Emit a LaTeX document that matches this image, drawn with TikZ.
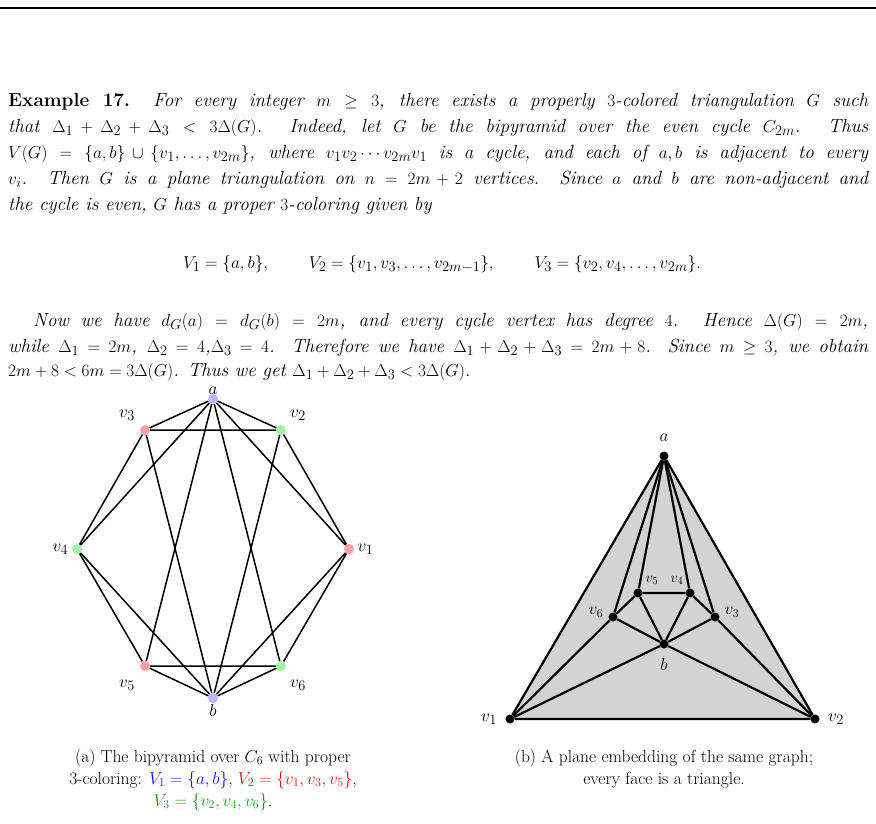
\documentclass[tikz,border=0pt]{standalone}
\usepackage{amsmath,amssymb}
\usetikzlibrary{positioning}
\definecolor{cb}{RGB}{185,185,255}
\definecolor{cr}{RGB}{255,160,160}
\definecolor{cg}{RGB}{160,250,160}
\definecolor{fillg}{RGB}{211,211,211}
\definecolor{capblue}{RGB}{20,20,230}
\definecolor{capred}{RGB}{210,20,20}
\definecolor{capgreen}{RGB}{20,150,20}
\tikzset{
 cv/.style={circle,inner sep=0pt,minimum size=10pt},
 bv/.style={circle,fill=black,inner sep=0pt,minimum size=9pt},
 ed/.style={line width=1.5pt},
 ed2/.style={line width=2.2pt},
 lbl/.style={font=\fontsize{19}{22}\selectfont},
 txt/.style={anchor=base west,inner sep=0pt,font=\fontsize{19}{26}\selectfont},
}
\newcommand{\jl}[1]{\hbox to 860pt{#1}}
\begin{document}
\begin{tikzpicture}[x=1pt,y=-1pt]
\useasboundingbox (0,0) rectangle (876,823);
\draw[line width=2pt] (0,8) -- (876,8);
\node[txt] (l1) at (8,106) {\jl{\textbf{Example 17.} \itshape For every integer $m\ge 3$, there exists a properly $3$-colored triangulation $G$ such}};
\node[txt] (l2) at (8,132) {\jl{\itshape that $\Delta_1+\Delta_2+\Delta_3<3\Delta(G)$. Indeed, let $G$ be the bipyramid over the even cycle $C_{2m}$. Thus}};
\node[txt] (l3) at (8,158) {\jl{\itshape $V(G)=\{a,b\}\cup\{v_1,\dots,v_{2m}\}$, where $v_1v_2\cdots v_{2m}v_1$ is a cycle, and each of $a,b$ is adjacent to every}};
\node[txt] (l4) at (8,184) {\jl{\itshape $v_i$. Then $G$ is a plane triangulation on $n=2m+2$ vertices. Since $a$ and $b$ are non-adjacent and}};
\node[txt] (l5) at (8,210) {\itshape the cycle is even, $G$ has a proper $3$-coloring given by};
\node[anchor=base,inner sep=0pt,font=\fontsize{19}{26}\selectfont] (d) at (442,268) {$V_1=\{a,b\},\qquad V_2=\{v_1,v_3,\dots,v_{2m-1}\},\qquad V_3=\{v_2,v_4,\dots,v_{2m}\}.$};
\node[txt] (l6) at (8,326) {\jl{\hspace{25pt}\itshape Now we have $d_G(a)=d_G(b)=2m$, and every cycle vertex has degree $4$. Hence $\Delta(G)=2m$,}};
\node[txt] (l7) at (8,352) {\jl{\itshape while $\Delta_1=2m$, $\Delta_2=4$,$\Delta_3=4$. Therefore we have $\Delta_1+\Delta_2+\Delta_3=2m+8$. Since $m\ge3$, we obtain}};
\node[txt] (l8) at (8,376) {\itshape $2m+8<6m=3\Delta(G)$. Thus we get $\Delta_1+\Delta_2+\Delta_3<3\Delta(G)$.};
% left graph
\node[cv,fill=cb] (a) at (213,399) {};
\node[cv,fill=cg] (v2) at (281,430) {};
\node[cv,fill=cr] (v1) at (349,549) {};
\node[cv,fill=cg] (v6) at (281,666) {};
\node[cv,fill=cb] (b) at (213,698) {};
\node[cv,fill=cr] (v5) at (145,666) {};
\node[cv,fill=cg] (v4) at (77,549) {};
\node[cv,fill=cr] (v3) at (145,430) {};
\foreach \v in {v1,v2,v3,v4,v5,v6}{\draw[ed] (a) -- (\v); \draw[ed] (b) -- (\v);}
\draw[ed] (v1)--(v2)--(v3)--(v4)--(v5)--(v6)--(v1);
\node[lbl,above=-2pt of a,inner sep=1pt] (la) {$a$};
\node[lbl,below=0pt of b,inner sep=1pt] (lb) {$b$};
\node[lbl,right=0pt of v1] (l_v1) {$v_1$};
\node[lbl,left=0pt of v4] (l_v4) {$v_4$};
\node[lbl] (l_v2) at (298,415) {$v_2$};
\node[lbl] (l_v3) at (127,415) {$v_3$};
\node[lbl] (l_v5) at (127,685) {$v_5$};
\node[lbl] (l_v6) at (298,685) {$v_6$};
% right graph
\coordinate (A) at (664,456);
\coordinate (P1) at (510,719);
\coordinate (P2) at (815,719);
\fill[fillg] (A)--(P1)--(P2)--cycle;
\node[bv] (ra) at (A) {};
\node[bv] (r1) at (P1) {};
\node[bv] (r2) at (P2) {};
\node[bv] (rb) at (664,644) {};
\node[bv] (r5) at (638,593) {};
\node[bv] (r4) at (690,593) {};
\node[bv] (r6) at (613,617) {};
\node[bv] (r3) at (715,617) {};
\draw[ed2] (ra)--(r1)--(r2)--(ra);
\foreach \v in {r6,r5,r4,r3}{\draw[ed2] (ra)--(\v);}
\draw[ed2] (r1)--(r6); \draw[ed2] (r1)--(rb); \draw[ed2] (r2)--(rb); \draw[ed2] (r2)--(r3);
\draw[ed2] (r6)--(r5)--(r4)--(r3);
\foreach \v in {r6,r5,r4,r3}{\draw[ed2] (rb)--(\v);}
\node[lbl] (lra) at (664,438) {$a$};
\node[lbl] (lrb) at (664,664) {$b$};
\node[lbl] (lr1) at (489,719) {$v_1$};
\node[lbl] (lr2) at (836,719) {$v_2$};
\node[lbl,font=\fontsize{17}{20}\selectfont] (lr6) at (596,612) {$v_6$};
\node[lbl,font=\fontsize{17}{20}\selectfont] (lr3) at (732,612) {$v_3$};
\node[lbl,font=\fontsize{15}{18}\selectfont] (lr5) at (652,580) {$v_5$};
\node[lbl,font=\fontsize{15}{18}\selectfont] (lr4) at (677,580) {$v_4$};
% captions
\node[align=center,font=\fontsize{17.5}{22}\selectfont] (capa) at (213,780) {(a) The bipyramid over $C_6$ with proper\\3-coloring: \textcolor{capblue}{$V_1=\{a,b\}$}, \textcolor{capred}{$V_2=\{v_1,v_3,v_5\}$},\\\textcolor{capgreen}{$V_3=\{v_2,v_4,v_6\}$}.};
\node[align=center,font=\fontsize{17.5}{22}\selectfont] (capb) at (664,769) {(b) A plane embedding of the same graph;\\every face is a triangle.};
\end{tikzpicture}
\end{document}
